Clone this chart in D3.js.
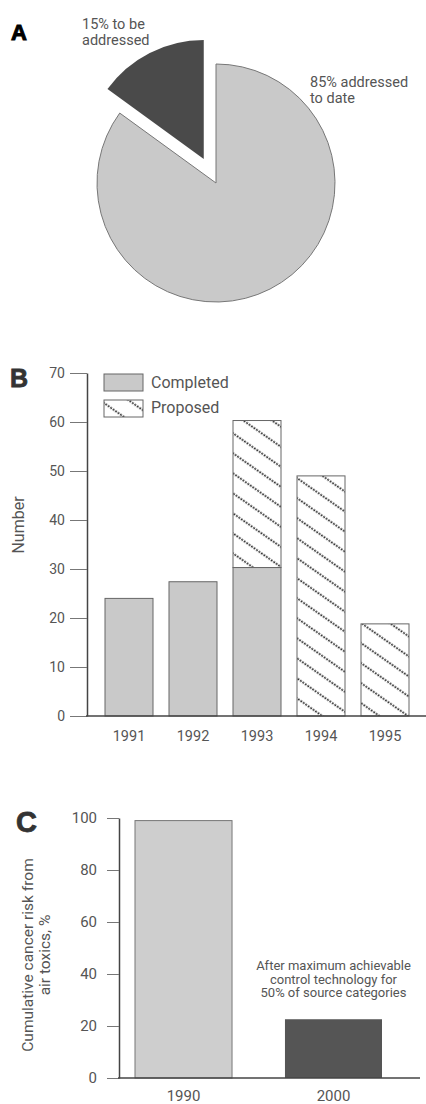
<!DOCTYPE html>
<html><head><meta charset="utf-8">
<script src="https://cdn.jsdelivr.net/npm/d3@7"></script>
<style>
body{margin:0;background:#fff}
svg{display:block}
text{font-family:Roboto,"Liberation Sans",sans-serif;fill:#555}
.panel{font-family:"Liberation Sans","DejaVu Sans",sans-serif;font-weight:900}
</style>
</head><body>
<svg id="c" width="426" height="1104"></svg>
<script>
// ---- Data ----
const pieLabels = ["85% addressed to date", "15% to be addressed"];
const pieValues = [85, 15];
const years = ["1991", "1992", "1993", "1994", "1995"];
const completed = [24, 27.4, 30.3, 0, 0];
const proposed = [0, 0, 30, 49, 18.8];
const seriesNames = ["Completed", "Proposed"];
const bTicks = [0, 10, 20, 30, 40, 50, 60, 70];
const cCategories = ["1990", "2000"];
const cValues = [99, 22.6];
const cTicks = [0, 20, 40, 60, 80, 100];
const cNote = ["After maximum achievable", "control technology for", "50% of source categories"];
const cYLabel = ["Cumulative cancer risk from", "air toxics, %"];

const LIGHT = "#c9c9c9", DARK = "#4a4a4a", AXIS = "#444";
const svg = d3.select("#c");

// hatch pattern
const defs = svg.append("defs");
const pat = defs.append("pattern").attr("id","hatch").attr("patternUnits","userSpaceOnUse")
  .attr("width", 12).attr("height", 16.4).attr("patternTransform","rotate(35)");
pat.append("rect").attr("width",12).attr("height",16.4).attr("fill","#fff");
pat.append("line").attr("x1",0).attr("x2",12).attr("y1",8).attr("y2",8)
  .attr("stroke","#333").attr("stroke-width",1.7).attr("stroke-dasharray","2 1");

// ---- Panel A: pie ----
svg.append("text").attr("class","panel").attr("x",11).attr("y",40).attr("font-size",22)
  .style("fill","#000").attr("stroke","#000").attr("stroke-width",1).text("A");
const pieG = svg.append("g").attr("transform","translate(216,183)");
const arcs = d3.pie().sort(null).startAngle(0).endAngle(2*Math.PI)(pieValues);
const arcGen = d3.arc().innerRadius(0).outerRadius(119);
const offsets = [0, 27];
pieG.selectAll("path").data(arcs).join("path")
  .attr("d", arcGen)
  .attr("transform", (d,i) => {
    const a = (d.startAngle + d.endAngle)/2;
    return `translate(${Math.sin(a)*offsets[i]},${-Math.cos(a)*offsets[i]})`;
  })
  .attr("fill", (d,i) => i === 0 ? LIGHT : DARK)
  .attr("stroke", (d,i) => i === 0 ? "#777" : "none")
  .attr("stroke-width", 1);
const pieLabelPos = [[310, 87], [82, 29]];
const pieLines = [["85% addressed","to date"],["15% to be","addressed"]];
pieLines.forEach((lines,i) => {
  const t = svg.append("text").attr("x",pieLabelPos[i][0]).attr("y",pieLabelPos[i][1]).attr("font-size",14.5);
  lines.forEach((l,j) => t.append("tspan").attr("x",pieLabelPos[i][0]).attr("dy", j ? 16 : 0).text(l));
});

// ---- Panel B: stacked bars ----
svg.append("text").attr("class","panel").attr("x",10).attr("y",387).attr("font-size",25)
  .style("fill","#333").attr("stroke","#333").attr("stroke-width",0.8).text("B");
const yB = d3.scaleLinear().domain([0,70]).range([716,373]);
const xB = d3.scaleBand().domain(years).range([97,417]).paddingInner(0.25).paddingOuter(0.125);
const tableB = years.map((y,i) => ({year:y, Completed:completed[i], Proposed:proposed[i]}));
const stackB = d3.stack().keys(seriesNames)(tableB);
const gB = svg.append("g");
stackB.forEach((s,si) => {
  gB.append("g").selectAll("rect").data(s.filter(d => d[1]-d[0] > 0)).join("rect")
    .attr("x", d => xB(d.data.year))
    .attr("width", xB.bandwidth())
    .attr("y", d => yB(d[1]))
    .attr("height", d => yB(d[0]) - yB(d[1]))
    .attr("fill", si === 0 ? LIGHT : "url(#hatch)")
    .attr("stroke", "#666").attr("stroke-width", 1);
});
const yAxB = svg.append("g").attr("transform","translate(87,0)")
  .call(d3.axisLeft(yB).tickValues(bTicks).tickSize(17).tickSizeOuter(0).tickPadding(5));
yAxB.attr("font-family",null);
yAxB.select(".domain").attr("stroke",AXIS).attr("stroke-width",1.5);
yAxB.selectAll(".tick line").attr("stroke","#777");
yAxB.selectAll("text").attr("font-size",14).style("fill","#555");
svg.append("line").attr("x1",86).attr("x2",426).attr("y1",716).attr("y2",716).attr("stroke",AXIS).attr("stroke-width",1.5);
const xAxB = svg.append("g").attr("transform","translate(0,716)")
  .call(d3.axisBottom(xB).tickSize(0).tickPadding(15));
xAxB.select(".domain").remove();
xAxB.attr("font-family",null);
xAxB.selectAll("text").attr("font-size",14.5).style("fill","#555");
svg.append("text").attr("transform","translate(24,525) rotate(-90)").attr("text-anchor","middle")
  .attr("font-size",16).text("Number");
// legend
const legB = svg.append("g");
seriesNames.forEach((n,i) => {
  legB.append("rect").attr("x",104).attr("y",374 + i*26).attr("width",39).attr("height",17)
    .attr("fill", i === 0 ? LIGHT : "url(#hatch)").attr("stroke","#666").attr("stroke-width",1);
  legB.append("text").attr("x",151).attr("y",388 + i*25).attr("font-size",16).text(n);
});

// ---- Panel C ----
svg.append("text").attr("class","panel").attr("x",16).attr("y",832).attr("font-size",29)
  .style("fill","#333").attr("stroke","#333").attr("stroke-width",0.8).text("C");
const yC = d3.scaleLinear().domain([0,100]).range([1078,818]);
const xC = d3.scaleBand().domain(cCategories).range([108.5,408.5]).paddingInner(0.353).paddingOuter(0.1767);
svg.append("g").selectAll("rect").data(cCategories).join("rect")
  .attr("x", d => xC(d)).attr("width", xC.bandwidth())
  .attr("y", (d,i) => yC(cValues[i])).attr("height", (d,i) => yC(0) - yC(cValues[i]))
  .attr("fill", (d,i) => i === 0 ? "#cecece" : "#555")
  .attr("stroke", (d,i) => i === 0 ? "#777" : "none").attr("stroke-width",1);
const yAxC = svg.append("g").attr("transform","translate(119,0)")
  .call(d3.axisLeft(yC).tickValues(cTicks).tickSize(12).tickSizeOuter(0).tickPadding(10));
yAxC.attr("font-family",null);
yAxC.select(".domain").attr("stroke",AXIS).attr("stroke-width",1.5);
yAxC.selectAll(".tick line").attr("stroke","#777");
yAxC.selectAll("text").attr("font-size",15).style("fill","#555");
svg.append("line").attr("x1",118).attr("x2",420).attr("y1",1078).attr("y2",1078).attr("stroke",AXIS).attr("stroke-width",1.5);
const xAxC = svg.append("g").attr("transform","translate(0,1078)")
  .call(d3.axisBottom(xC).tickSize(0).tickPadding(12));
xAxC.select(".domain").remove();
xAxC.attr("font-family",null);
xAxC.selectAll("text").attr("font-size",15).style("fill","#555");
const note = svg.append("text").attr("text-anchor","middle").attr("font-size",13);
cNote.forEach((l,j) => note.append("tspan").attr("x", xC("2000") + xC.bandwidth()/2).attr("y", 970 + j*13.5).text(l));
cYLabel.forEach((l,j) => {
  svg.append("text").attr("transform",`translate(${33 + j*17},955) rotate(-90)`).attr("text-anchor","middle")
    .attr("font-size",15.5).text(l);
});
</script>
</body></html>
